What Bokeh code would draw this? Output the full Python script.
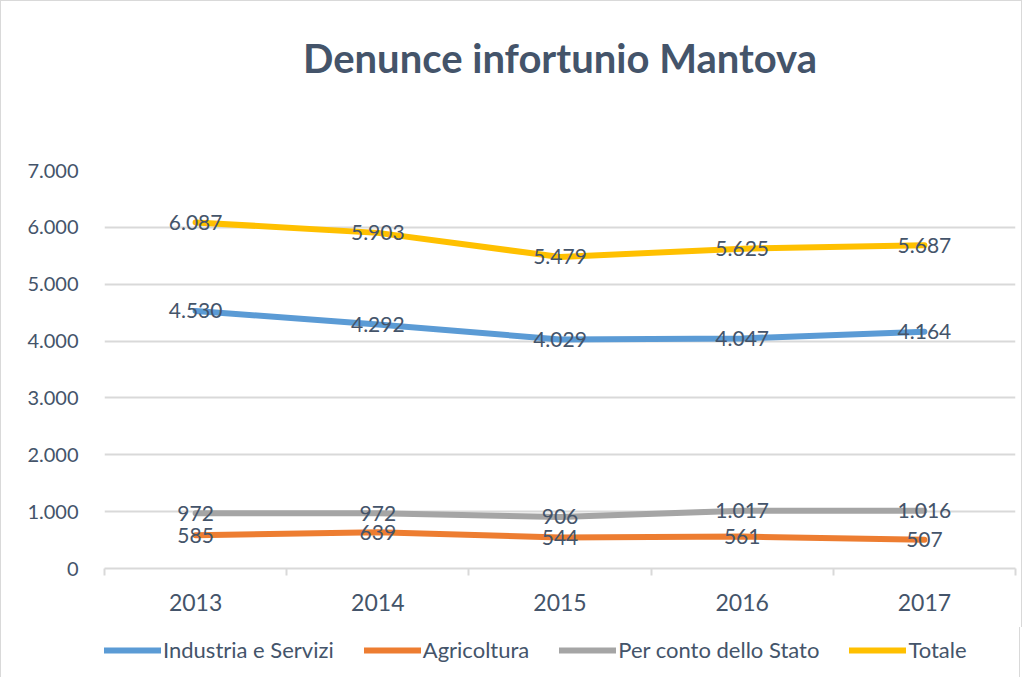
from bokeh.plotting import figure
from bokeh.layouts import column
from bokeh.models import ColumnDataSource, Legend, LegendItem, FixedTicker, Range1d, Title
from bokeh.core.properties import value
from bokeh.embed import file_html
from bokeh.resources import INLINE

years = ["2013", "2014", "2015", "2016", "2017"]
industria = [4530, 4292, 4029, 4047, 4164]
agricoltura = [585, 639, 544, 561, 507]
stato = [972, 972, 906, 1017, 1016]
totale = [6087, 5903, 5479, 5625, 5687]
y_ticks = [0, 1000, 2000, 3000, 4000, 5000, 6000, 7000]

series = [
    ("Industria e Servizi", industria, "#5B9BD5"),
    ("Agricoltura", agricoltura, "#ED7D31"),
    ("Per conto dello Stato", stato, "#A5A5A5"),
    ("Totale", totale, "#FFC000"),
]

FONT = "Lato"
TXT = "#44546A"
BORDER = "1px solid #D9D9D9"

def fmt(v):
    return f"{v:,}".replace(",", ".")

p = figure(frame_width=909, frame_height=397, output_backend="svg", toolbar_location=None,
           x_range=Range1d(0.5, 5.5), y_range=Range1d(0, 7000), title_location=None,
           min_border_left=103, min_border_right=8, min_border_top=169, min_border_bottom=60)
p.styles = {"border-top": BORDER, "border-left": BORDER, "border-right": BORDER}
p.outline_line_color = None
p.background_fill_color = "white"

# spacer (closest to the frame), then the real title above it
p.add_layout(Title(text=" ", text_font_size="10px", standoff=71), "above")
p.add_layout(Title(text="Denunce infortunio Mantova", align="center", text_font=FONT,
                   text_font_size="40px", text_font_style="bold", text_color=TXT,
                   standoff=10), "above")

xs = list(range(1, len(years) + 1))
for name, vals, col in series:
    src = ColumnDataSource(dict(x=xs, y=vals))
    p.line("x", "y", source=src, line_color=col, line_width=6, line_cap="round", line_join="round")
for name, vals, col in series:
    src = ColumnDataSource(dict(x=xs, y=vals, lab=[fmt(v) for v in vals]))
    p.text("x", "y", text="lab", source=src, text_font=value(FONT), text_font_size="21px",
           text_color=TXT, text_align="center", text_baseline="middle")

p.xaxis.ticker = FixedTicker(ticks=xs, minor_ticks=[x - 0.5 for x in xs] + [xs[-1] + 0.5])
p.xaxis.major_label_overrides = {x: y for x, y in zip(xs, years)}
p.xaxis.major_tick_line_color = None
p.xaxis.minor_tick_line_color = "#D9D9D9"
p.xaxis.minor_tick_line_width = 2
p.xaxis.minor_tick_out = 7
p.xaxis.minor_tick_in = 0
p.xaxis.axis_line_color = "#D9D9D9"
p.xaxis.axis_line_width = 2
p.xaxis.major_label_text_font = FONT
p.xaxis.major_label_text_font_size = "23px"
p.xaxis.major_label_text_color = TXT
p.xaxis.major_label_standoff = 18

p.yaxis.ticker = FixedTicker(ticks=y_ticks)
p.yaxis.major_label_overrides = {v: fmt(v) for v in y_ticks}
p.yaxis.axis_line_color = None
p.yaxis.major_tick_line_color = None
p.yaxis.minor_tick_line_color = None
p.yaxis.major_label_text_font = FONT
p.yaxis.major_label_text_font_size = "20px"
p.yaxis.major_label_text_color = TXT
p.yaxis.major_label_standoff = 20

p.xgrid.grid_line_color = None
p.ygrid.grid_line_color = "#D9D9D9"
p.ygrid.grid_line_width = 2

# legend strip below the chart (its ranges keep the proxy lines out of view)
lf = figure(width=1020, height=50, output_backend="svg", toolbar_location=None,
            x_range=Range1d(-20, -10), y_range=Range1d(-20, -10), title_location=None,
            min_border=0, x_axis_location=None, y_axis_location=None)
lf.styles = {"border-left": BORDER, "border-right": BORDER}
lf.outline_line_color = None
lf.xgrid.grid_line_color = None
lf.ygrid.grid_line_color = None
items = []
for name, vals, col in series:
    r = lf.line(x=xs, y=vals, line_color=col, line_width=6, line_cap="round")
    items.append(LegendItem(label=name, renderers=[r]))
legend = Legend(items=items, orientation="horizontal", location=(0, 14),
                label_text_font=FONT, label_text_font_size="22px", label_text_color=TXT,
                label_height=22, glyph_width=57, glyph_height=22, label_standoff=2, spacing=30,
                border_line_color=None, background_fill_alpha=0, margin=0, padding=0)
lf.add_layout(legend, "center")

layout = column(p, lf, spacing=0)
open("out.html", "w").write(file_html(layout, INLINE))
